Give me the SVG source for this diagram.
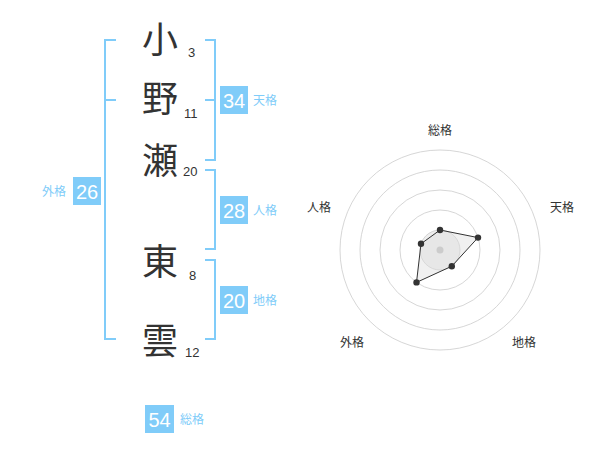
<svg xmlns="http://www.w3.org/2000/svg" width="600" height="470" viewBox="0 0 600 470">
<style>
.kanji{font-family:"Noto Sans CJK JP","Noto Sans CJK SC",sans-serif;font-size:36px;fill:#333}
.num{font-family:"Liberation Sans",Arial,sans-serif;font-size:13px;fill:#333}
.br{fill:none;stroke:#80CCF9;stroke-width:2}
.box{fill:#80CCF9}
.bn{font-family:"Liberation Sans",Arial,sans-serif;font-size:20px;fill:#fff;text-anchor:middle}
.bl{font-family:"Noto Sans CJK JP",sans-serif;font-size:12px;fill:#80CCF9}
.ring{fill:none;stroke:#ccc;stroke-width:0.8}
.rl{font-family:"Noto Sans CJK JP",sans-serif;font-size:12px;fill:#333;text-anchor:middle}
.pt{fill:#333}
</style>
<rect width="600" height="470" fill="#fff"/>
<g id="connectors">
<path class="br" d="M116,40 H105 V339 H116 M105,100 H116"/>
<path class="br" d="M205,40 H215 V160 H205 M205,100 H215"/>
<path class="br" d="M205,170 H215 V249 H205"/>
<path class="br" d="M205,260 H215 V339 H205"/>
</g>
<g id="char1"><text class="kanji" x="142" y="53">小</text><text class="num" x="188" y="57">3</text></g>
<g id="char2"><text class="kanji" x="142" y="112">野</text><text class="num" x="184" y="118">11</text></g>
<g id="char3"><text class="kanji" x="142" y="174">瀬</text><text class="num" x="183" y="176">20</text></g>
<g id="char4"><text class="kanji" x="142" y="275">東</text><text class="num" x="189" y="280">8</text></g>
<g id="char5"><text class="kanji" x="142" y="354">雲</text><text class="num" x="185" y="357">12</text></g>
<g id="tenkaku"><rect class="box" x="220" y="86" width="28" height="28"/><text class="bn" x="234" y="107.5">34</text><text class="bl" x="253" y="105">天格</text></g>
<g id="jinkaku"><rect class="box" x="220" y="196" width="28" height="28"/><text class="bn" x="234" y="217.5">28</text><text class="bl" x="253" y="215">人格</text></g>
<g id="chikaku"><rect class="box" x="220" y="286" width="28" height="28"/><text class="bn" x="234" y="307.5">20</text><text class="bl" x="253" y="305">地格</text></g>
<g id="gaikaku"><rect class="box" x="73" y="177" width="28" height="28"/><text class="bn" x="87" y="198.5">26</text><text class="bl" x="66" y="196" text-anchor="end">外格</text></g>
<g id="soukaku"><rect class="box" x="145" y="405" width="29" height="28"/><text class="bn" x="159.5" y="426.5">54</text><text class="bl" x="180" y="424">総格</text></g>
<g id="radar">
<circle class="ring" cx="440" cy="250" r="100"/>
<circle class="ring" cx="440" cy="250" r="80"/>
<circle class="ring" cx="440" cy="250" r="60"/>
<circle class="ring" cx="440" cy="250" r="40"/>
<circle cx="440" cy="250" r="20" fill="#eee" stroke="#ccc" stroke-width="0.8"/>
<polygon points="440,230 478,237.6 451.8,266.2 416.5,282.4 421,243.8" fill="#ddd" fill-opacity="0.45" stroke="#333" stroke-width="1"/>
<circle cx="440" cy="250" r="3.5" fill="#ccc"/>
<circle class="pt" cx="440" cy="230" r="3.2"/>
<circle class="pt" cx="478" cy="237.6" r="3.2"/>
<circle class="pt" cx="451.8" cy="266.2" r="3.2"/>
<circle class="pt" cx="416.5" cy="282.4" r="3.2"/>
<circle class="pt" cx="421" cy="243.8" r="3.2"/>
<text class="rl" x="440" y="135">総格</text>
<text class="rl" x="562" y="212">天格</text>
<text class="rl" x="524" y="347">地格</text>
<text class="rl" x="352" y="347">外格</text>
<text class="rl" x="319" y="212">人格</text>
</g>
</svg>
